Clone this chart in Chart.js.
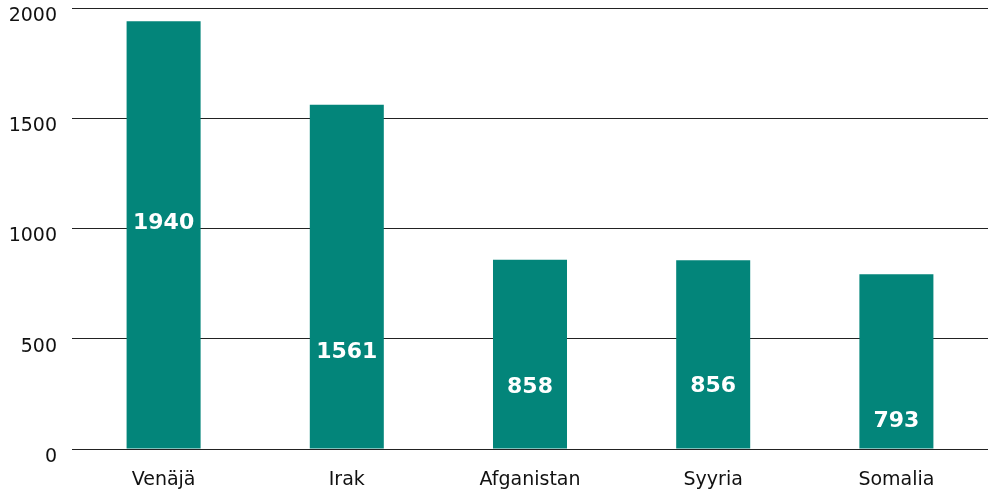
<!DOCTYPE html>
<html>
<head>
<meta charset="utf-8">
<script src="https://cdn.jsdelivr.net/npm/chart.js@4"></script>
<style>
    html, body { margin: 0; padding: 0; background: #fff; }
    #wrap { width: 988px; height: 492px; }
</style>
</head>
<body>
<div id="wrap"><canvas id="chart"></canvas></div>
<script>
const countries = ["Venäjä", "Irak", "Afganistan", "Syyria", "Somalia"];
const counts = [1940, 1561, 858, 856, 793];
const yTicks = [0, 500, 1000, 1500, 2000];

// where the value labels sit inside the bars (in axis units)
const labelAt = [1025, 440, 281, 286, 127];

const barLabels = {
    id: "barLabels",
    afterDatasetsDraw(chart) {
        let ctx = chart.ctx;
        let meta = chart.getDatasetMeta(0);
        let y = chart.scales.y;
        ctx.save();
        ctx.fillStyle = "#ffffff";
        ctx.font = "bold 22px 'DejaVu Sans'";
        ctx.textAlign = "center";
        ctx.textBaseline = "middle";
        meta.data.forEach((bar, i) => {
            ctx.fillText(String(counts[i]), bar.x, y.getPixelForValue(labelAt[i]));
        });
        ctx.restore();
    }
};

new Chart(document.getElementById("chart"), {
    type: "bar",
    data: {
        labels: countries,
        datasets: [{
            data: counts,
            backgroundColor: "#03857a",
            categoryPercentage: 1,
            barPercentage: 0.404
        }]
    },
    options: {
        responsive: true,
        maintainAspectRatio: false,
        animation: false,
        layout: { padding: { top: 8, right: 0, bottom: 0, left: 0 } },
        plugins: { legend: { display: false }, tooltip: { enabled: false } },
        scales: {
            x: {
                grid: { display: false, drawTicks: false },
                border: { display: false },
                ticks: {
                    color: "#111",
                    font: { family: "DejaVu Sans", size: 19 },
                    padding: 20,
                    maxRotation: 0
                },
                afterFit(scale) {
                    scale.height = 43;
                    scale.paddingLeft = 0;
                    scale.paddingRight = 0;
                }
            },
            y: {
                min: 0,
                max: 2000,
                afterBuildTicks(scale) { scale.ticks = yTicks.map(v => ({ value: v })); },
                grid: { color: "#222", lineWidth: 1, drawTicks: false },
                border: { display: false },
                ticks: {
                    color: "#111",
                    font: { family: "DejaVu Sans", size: 19 },
                    padding: 15,
                    labelOffset: 8,
                    callback: v => String(v)
                },
                afterFit(scale) {
                    scale.width = 72;
                    scale.paddingTop = 0;
                    scale.paddingBottom = 0;
                }
            }
        }
    },
    plugins: [barLabels]
});
</script>
</body>
</html>
